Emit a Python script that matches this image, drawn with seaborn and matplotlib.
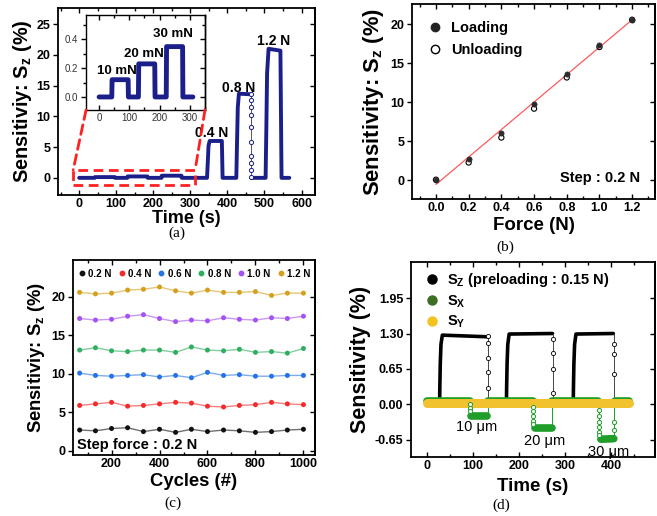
import numpy as np
import pandas as pd
import matplotlib
matplotlib.use("Agg")
import matplotlib.pyplot as plt
import seaborn as sns
from matplotlib.ticker import MultipleLocator, FixedLocator, FormatStrFormatter
from matplotlib.lines import Line2D
from matplotlib.patches import Rectangle, ConnectionPatch

nan = np.nan

# ---- (a) step response, Sz vs time ----
a_time = [0, 42, 43, 96, 97, 130, 131, 184, 185, 222, 223, 276, 277, 310,
          345, 347, 349, 352, 385, 387, 424, 426, 428, 431, 462, 463, 465,
          503, 505, 507, 511, 543, 546, 567]
a_sz = [0.0, 0.0, 0.12, 0.12, 0.0, 0.0, 0.23, 0.23, 0.0, 0.0, 0.35, 0.35, 0.0, 0.0,
        0.0, 2.5, 5.2, 6.0, 6.0, 0.0, 0.0, 6.0, 11.5, 13.7, 13.6, nan, 0.0,
        0.0, 8.0, 17.0, 21.0, 20.7, 0.0, 0.0]
a_drop_time = 463
a_drop_sz = [13.6, 12.7, 11.6, 10.3, 8.3, 5.8, 3.5, 2.4, 1.3, 0.2]

# ---- (b) loading / unloading ----
force = [0.0, 0.2, 0.4, 0.6, 0.8, 1.0, 1.2]
loading = [0.0, 2.8, 6.1, 9.8, 13.6, 17.4, 20.6]
unloading = [0.1, 2.3, 5.5, 9.2, 13.2, 17.1, 20.6]

# ---- (c) cycling ----
cycles = [67, 133, 200, 267, 333, 400, 467, 533, 600, 667, 733, 800, 867, 933, 1000]
c_02 = [2.7, 2.6, 2.9, 3.0, 2.5, 2.8, 2.4, 2.8, 2.5, 2.7, 2.6, 2.4, 2.5, 2.7, 2.8]
c_04 = [5.9, 6.1, 6.3, 5.8, 5.9, 6.1, 6.3, 6.2, 5.8, 5.7, 5.9, 6.0, 6.3, 6.1, 6.0]
c_06 = [10.1, 9.8, 9.7, 9.8, 9.9, 9.6, 9.8, 9.5, 10.2, 9.8, 9.9, 9.7, 9.7, 9.8, 9.8]
c_08 = [13.1, 13.4, 13.0, 12.9, 13.1, 13.1, 12.8, 13.5, 13.1, 13.0, 13.2, 12.8, 12.9, 12.7, 13.3]
c_10 = [17.2, 17.0, 17.1, 17.5, 17.7, 17.2, 16.8, 17.0, 16.9, 17.3, 17.1, 17.0, 17.3, 17.2, 17.5]
c_12 = [20.6, 20.4, 20.5, 20.9, 21.0, 21.3, 20.8, 20.5, 20.9, 20.6, 20.6, 20.7, 20.2, 20.5, 20.5]
c_forces = ['0.2 N', '0.4 N', '0.6 N', '0.8 N', '1.0 N', '1.2 N']
c_colors = ['#111111', '#f52a2a', '#2673e6', '#2fae5f', '#a452f2', '#d4a11e']

# ---- (d) shear response ----
sz_t = [0, 27, 27.5, 28.5, 30, 33, 130, 130.5, 132, 172, 172.5, 173.5, 175, 178, 272,
        272.5, 274, 317, 317.5, 318.5, 320, 323, 404, 404.5, 406, 438]
sz_v = [0.0, 0.0, 0.3, 0.75, 1.1, 1.27, 1.24, nan, -0.02, -0.02, 0.3, 0.75, 1.1, 1.29, 1.30,
        nan, -0.02, -0.02, 0.3, 0.75, 1.1, 1.29, 1.30, nan, -0.02, -0.02]
sz_drop_t = [131, 273, 405]
sz_drop_top = [1.24, 1.30, 1.30]
sz_drop_marks = [[1.26, 1.12, 0.85, 0.6, 0.3], [1.2, 0.95, 0.64, 0.21], [1.11, 0.92, 0.55]]

sx_t = [0, 92, 92.5, 96, 130, 130.5, 132, 229, 229.5, 235, 270, 270.5, 272, 371,
        371.5, 377, 405, 405.5, 407, 438]
sx_v = [0.07, 0.07, nan, -0.21, -0.21, nan, 0.07, 0.07, nan, -0.43, -0.43, nan, 0.07, 0.07,
        nan, -0.64, -0.63, nan, 0.07, 0.07]
sx_down_t = [93, 230, 372]
sx_level = [-0.21, -0.43, -0.64]
sx_down_marks = [[0.0, -0.06, -0.13], [-0.05, -0.13, -0.22, -0.3, -0.37],
                 [-0.1, -0.22, -0.33, -0.42, -0.5, -0.56]]
sx_up_t = [131, 271, 406]
sx_up_marks = [[], [], [-0.47, -0.32]]

sy_t = [0, 438]
sy_v = [0.03, 0.03]

sns.set_theme(style="ticks", rc={"axes.edgecolor": "black", "xtick.color": "black",
                                 "ytick.color": "black", "text.color": "black",
                                 "axes.labelcolor": "black"})
plt.rcParams['font.family'] = ['Liberation Sans', 'DejaVu Sans']
plt.rcParams['font.weight'] = 'bold'
plt.rcParams['axes.labelweight'] = 'bold'
plt.rcParams['mathtext.fontset'] = 'custom'
plt.rcParams['mathtext.rm'] = 'Liberation Sans'
plt.rcParams['mathtext.bf'] = 'Liberation Sans:bold'
plt.rcParams['mathtext.it'] = 'Liberation Sans:italic'
plt.rcParams['axes.unicode_minus'] = False


def trace(ax, t, v, **kw):
    df = pd.DataFrame({'t': t, 'v': v})
    df['seg'] = df['v'].isna().cumsum()
    df = df.dropna()
    sns.lineplot(data=df, x='t', y='v', units='seg', estimator=None, sort=False,
                 ax=ax, legend=False, **kw)


def frame(ax, xmaj, xmin, ymaj, ymin, lw=1.3, size=9):
    ax.xaxis.set_major_locator(xmaj())
    ax.yaxis.set_major_locator(ymaj())
    if xmin:
        ax.xaxis.set_minor_locator(xmin())
    if ymin:
        ax.yaxis.set_minor_locator(ymin())
    ax.tick_params(which='both', width=1.0, labelsize=size, pad=2)
    ax.tick_params(axis='x', which='both', direction='in', top=True)
    ax.tick_params(axis='y', which='both', direction='out', right=False)
    ax.tick_params(which='major', length=3.5)
    ax.tick_params(which='minor', length=2)
    for s in ax.spines.values():
        s.set_linewidth(lw)
    right = ax.secondary_yaxis('right')
    right.yaxis.set_major_locator(ymaj())
    if ymin:
        right.yaxis.set_minor_locator(ymin())
    right.tick_params(which='both', direction='in', labelright=False, width=1.0)
    right.tick_params(which='major', length=3.5)
    right.tick_params(which='minor', length=2)
    right.spines['right'].set_linewidth(lw)


fig = plt.figure(figsize=(6.57, 5.16), dpi=100)

# ================= (a) =================
navy = '#1b1f8a'
ax = fig.add_axes([0.0883, 0.622, 0.391, 0.362])
trace(ax, a_time, a_sz, color=navy, linewidth=2.8)
ax.plot([a_drop_time] * 2, [a_drop_sz[0], 0], color='#555555', lw=0.7, zorder=3)
ax.plot([a_drop_time] * len(a_drop_sz), a_drop_sz, 'o', ms=3, mfc='white',
        mec=navy, mew=0.7, zorder=4)
ax.set_xlim(-57, 636)
ax.set_ylim(-2.8, 27.6)
frame(ax, lambda: MultipleLocator(100), lambda: MultipleLocator(50),
      lambda: MultipleLocator(5), None)
ax.set_xlabel('Time (s)', fontsize=13, labelpad=0)
ax.set_ylabel(r'Sensitiviy: S$_\mathbf{z}$ (%)', fontsize=14.3, labelpad=2)
for lab, x, y in [('0.4 N', 358, 7.3), ('0.8 N', 429, 14.7), ('1.2 N', 524, 22.2)]:
    ax.text(x, y, lab, ha='center', va='center', fontsize=10, fontweight='bold')
red = '#ff2020'
ax.add_patch(Rectangle((-16, -1.1), 329, 2.4, fill=False, ec=red, lw=2,
                       ls=(0, (3.5, 2)), zorder=5))

ins = fig.add_axes([0.131, 0.787, 0.181, 0.184])
ins_t = [t for t in a_time if t <= 310]
trace(ins, ins_t, a_sz[:len(ins_t)], color=navy, linewidth=3.5)
ins.set_xlim(-43, 350)
ins.set_ylim(-0.09, 0.57)
frame(ins, lambda: MultipleLocator(100), lambda: MultipleLocator(50),
      lambda: MultipleLocator(0.2), lambda: MultipleLocator(0.1), lw=1.0, size=7)
ins.yaxis.set_major_formatter(FormatStrFormatter('%.1f'))
for lab in ins.get_xticklabels() + ins.get_yticklabels():
    lab.set_fontweight('normal')
    lab.set_color('#333333')
ins.set_xlabel('')
ins.set_ylabel('')
for lab, x, y in [('10 mN', 58, 0.18), ('20 mN', 148, 0.30), ('30 mN', 245, 0.44)]:
    ins.text(x, y, lab, ha='center', va='center', fontsize=9.5, fontweight='bold')
for cx, rx in [(0, -16), (1, 313)]:
    con = ConnectionPatch(xyA=(cx, 0), coordsA=ins.transAxes, xyB=(rx, 1.3),
                          coordsB=ax.transData, color=red, lw=2, ls=(0, (3.5, 2)))
    fig.add_artist(con)

# ================= (b) =================
ax = fig.add_axes([0.627, 0.614, 0.370, 0.378])
sns.regplot(x=force, y=loading, scatter=False, ci=None, ax=ax,
            line_kws=dict(color='#ff5a5a', lw=0.9))
sns.scatterplot(x=force, y=unloading, ax=ax, marker='o', s=14, facecolors='none',
                edgecolors='black', linewidth=0.8, zorder=3)
sns.scatterplot(x=force, y=loading, ax=ax, marker='o', s=14, color='#2b2b2b',
                edgecolor='#2b2b2b', linewidth=0.5, zorder=4)
ax.set_xlim(-0.147, 1.34)
ax.set_ylim(-2.4, 22.6)
frame(ax, lambda: MultipleLocator(0.2), lambda: MultipleLocator(0.1),
      lambda: MultipleLocator(5), None)
ax.xaxis.set_major_formatter(FormatStrFormatter('%.1f'))
ax.set_xlabel('Force (N)', fontsize=13.5, labelpad=2)
ax.set_ylabel(r'Sensitivity: S$_\mathbf{z}$ (%)', fontsize=15.8, labelpad=3)
hb = [Line2D([], [], ls='', marker='o', ms=6, mfc='#222222', mec='#222222'),
      Line2D([], [], ls='', marker='o', ms=6, mfc='white', mec='black', mew=1)]
ax.legend(hb, ['Loading', 'Unloading'], loc='upper left', frameon=False,
          bbox_to_anchor=(0.04, 0.945), borderaxespad=0, handlelength=1,
          handletextpad=0.6, labelspacing=0.6, prop={'weight': 'bold', 'size': 10.5})
ax.text(0.938, 0.109, 'Step : 0.2 N', transform=ax.transAxes, ha='right',
        va='center', fontsize=10.5, fontweight='bold')

# ================= (c) =================
ax = fig.add_axes([0.111, 0.118, 0.368, 0.378])
dfc = pd.DataFrame({'cycle': cycles * 6,
                    'sz': c_02 + c_04 + c_06 + c_08 + c_10 + c_12,
                    'force': [f for f in c_forces for _ in cycles]})
pal = dict(zip(c_forces, c_colors))
sns.lineplot(data=dfc, x='cycle', y='sz', hue='force', palette=pal, ax=ax,
             legend=False, lw=1.0, alpha=0.6)
sns.scatterplot(data=dfc, x='cycle', y='sz', hue='force', palette=pal, ax=ax,
                legend=False, s=13, linewidth=0, zorder=3)
ax.set_xlim(39, 1047)
ax.set_ylim(-0.56, 24.8)
frame(ax, lambda: MultipleLocator(200), lambda: MultipleLocator(100),
      lambda: MultipleLocator(5), None)
ax.set_xlabel('Cycles (#)', fontsize=13.3, labelpad=2)
ax.set_ylabel(r'Sensitiviy: S$_\mathbf{z}$ (%)', fontsize=13.2, labelpad=3)
hc = [Line2D([], [], ls='', marker='o', ms=3.2, mfc=c, mec=c) for c in c_colors]
ax.legend(hc, c_forces, loc='upper left', ncol=6, frameon=False,
          bbox_to_anchor=(0.0, 0.985), borderaxespad=0.2, handlelength=0.6,
          handletextpad=0.35, columnspacing=0.75, prop={'weight': 'bold', 'size': 7})
ax.text(0.015, 0.05, 'Step force : 0.2 N', transform=ax.transAxes, ha='left',
        va='center', fontsize=10.5, fontweight='bold')

# ================= (d) =================
ax = fig.add_axes([0.6256, 0.114, 0.371, 0.378])
green = '#1f9e2a'
trace(ax, sz_t, sz_v, color='black', linewidth=2.6)
for t, top, marks in zip(sz_drop_t, sz_drop_top, sz_drop_marks):
    ax.plot([t, t], [top, -0.02], color='#444444', lw=0.7, zorder=2)
    ax.plot([t] * len(marks), marks, 'o', ms=3, mfc='white', mec='black', mew=0.6,
            zorder=3)
trace(ax, sx_t, sx_v, color=green, linewidth=5.5)
for t, lev, marks in zip(sx_down_t, sx_level, sx_down_marks):
    ax.plot([t, t], [0.07, lev], color=green, lw=0.7, zorder=2)
    ax.plot([t] * len(marks), marks, 'o', ms=3, mfc='white', mec=green, mew=0.7,
            zorder=3)
for t, lev, marks in zip(sx_up_t, sx_level, sx_up_marks):
    ax.plot([t, t], [lev, 0.07], color=green, lw=0.7, zorder=2)
    if marks:
        ax.plot([t] * len(marks), marks, 'o', ms=3, mfc='white', mec=green,
                mew=0.7, zorder=3)
trace(ax, sy_t, sy_v, color='#f2c12e', linewidth=6.5)
ax.set_xlim(-35, 494)
ax.set_ylim(-0.97, 2.61)
frame(ax, lambda: MultipleLocator(100), lambda: MultipleLocator(50),
      lambda: FixedLocator([-0.65, 0.0, 0.65, 1.30, 1.95]), None)
ax.yaxis.set_major_formatter(FormatStrFormatter('%.2f'))
ax.set_xlabel('Time (s)', fontsize=13.5, labelpad=4)
ax.set_ylabel('Sensitivity (%)', fontsize=15.5, labelpad=3)
hd = [Line2D([], [], ls='', marker='o', ms=6.5, mfc=c, mec=c)
      for c in ['black', '#3c6e23', '#f4c21f']]
ax.legend(hd, [r'S$_\mathbf{Z}$ (preloading : 0.15 N)', r'S$_\mathbf{X}$',
               r'S$_\mathbf{Y}$'],
          loc='upper left', frameon=False, bbox_to_anchor=(0.04, 0.985),
          borderaxespad=0, handlelength=0.8, handletextpad=0.6, labelspacing=0.3,
          prop={'weight': 'bold', 'size': 10.5})
for lab, x, y in [('10 μm', 108, -0.42), ('20 μm', 255, -0.67), ('30 μm', 393, -0.88)]:
    ax.text(x, y, lab, ha='center', va='center', fontsize=10.5, fontweight='normal')

# captions
for lab, x, y in [('(a)', 177, 233), ('(b)', 505, 247), ('(c)', 173, 503), ('(d)', 501, 505)]:
    fig.text(x / 657, 1 - y / 516, lab, ha='center', va='center', fontsize=11,
             family='Liberation Serif', fontweight='normal')

fig.savefig('out.png', dpi=100)
